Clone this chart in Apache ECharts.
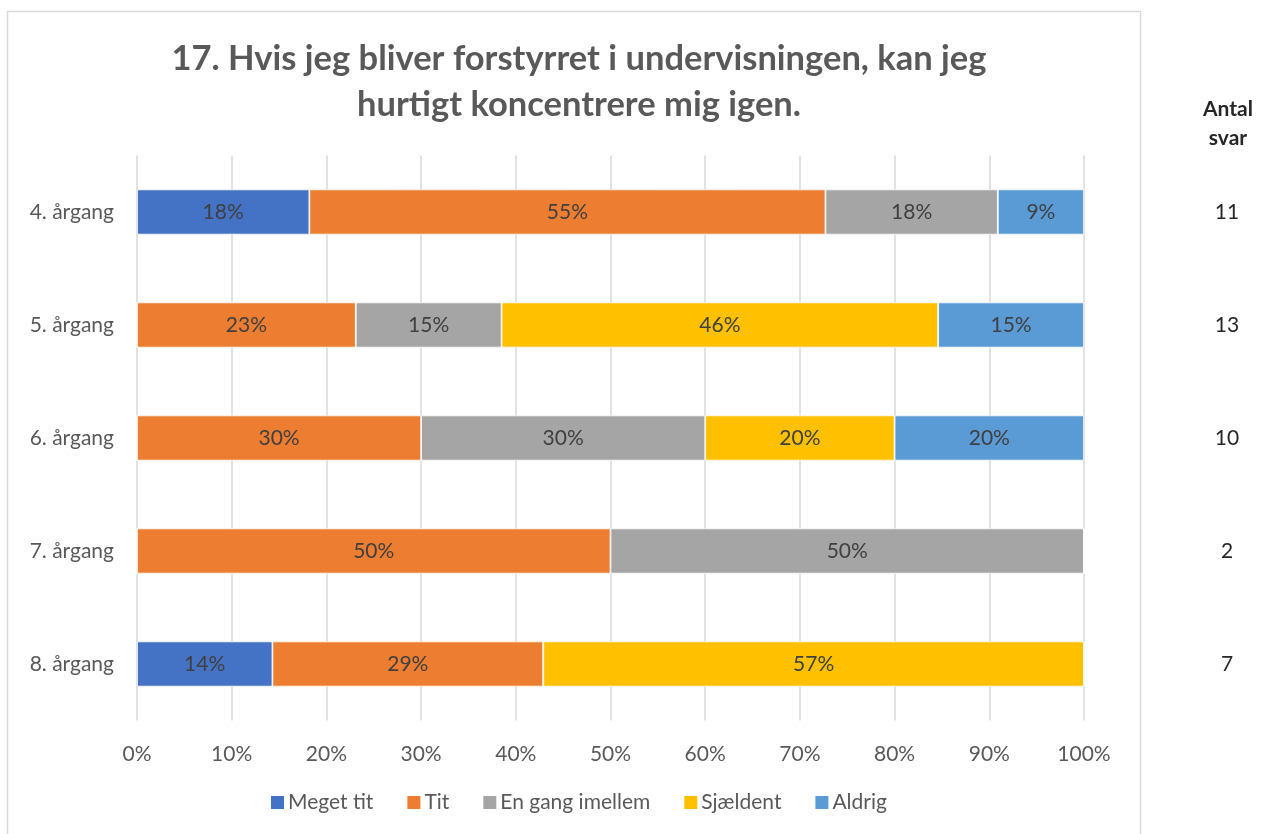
<!DOCTYPE html>
<html>
<head>
<meta charset="utf-8">
<script src="https://cdn.jsdelivr.net/npm/echarts@6/dist/echarts.min.js"></script>
<style>
  html, body { margin: 0; padding: 0; background: #fff; }
  #chart { width: 1262px; height: 834px; }
</style>
</head>
<body>
<div id="chart"></div>
<script>
// Survey question 17, answer shares per year group (percent of respondents)
const categories = ['4. årgang', '5. årgang', '6. årgang', '7. årgang', '8. årgang'];
const answerCounts = ['11', '13', '10', '2', '7'];
const seriesNames = ['Meget tit', 'Tit', 'En gang imellem', 'Sjældent', 'Aldrig'];
const megetTit     = [18.2, 0,    0,  0,  14.3];
const tit          = [54.5, 23.1, 30, 50, 28.6];
const enGangImellem= [18.2, 15.4, 30, 50, 0];
const sjaeldent    = [0,    46.1, 20, 0,  57.1];
const aldrig       = [9.1,  15.4, 20, 0,  0];
const xTicks = [0, 10, 20, 30, 40, 50, 60, 70, 80, 90, 100];

const colors = ['#4472C4', '#ED7D31', '#A5A5A5', '#FFC000', '#5B9BD5'];
const FONT = 'Lato, "Open Sans", sans-serif';
const LABEL_SIZE = 21;

const seriesData = [megetTit, tit, enGangImellem, sjaeldent, aldrig];

const chart = echarts.init(document.getElementById('chart'), null, { renderer: 'canvas' });

chart.setOption({
  animation: false,
  textStyle: { fontFamily: FONT },
  color: colors,
  title: {
    text: '17. Hvis jeg bliver forstyrret i undervisningen, kan jeg\nhurtigt koncentrere mig igen.',
    left: 574,
    top: 31,
    textAlign: 'center',
    textStyle: { fontFamily: FONT, fontSize: 34.5, fontWeight: 'bold', color: '#595959', lineHeight: 46 }
  },
  legend: {
    data: seriesNames,
    bottom: 16,
    left: 264,
    itemWidth: 15,
    itemHeight: 15,
    itemGap: 32,
    icon: 'rect',
    textStyle: { fontFamily: FONT, fontSize: LABEL_SIZE, color: '#595959', padding: [0, 0, 0, -2] }
  },
  grid: { left: 137, right: 178, top: 155.5, bottom: 113.5, containLabel: false },
  xAxis: {
    type: 'value',
    min: 0,
    max: 100,
    interval: 10,
    axisLine: { show: false },
    axisTick: { show: false },
    axisLabel: {
      fontFamily: FONT, fontSize: LABEL_SIZE, color: '#595959', margin: 23,
      formatter: v => xTicks.includes(v) ? v + '%' : ''
    },
    splitLine: { show: true, lineStyle: { color: '#d9d9d9', width: 1.5 } }
  },
  yAxis: [
    {
      type: 'category',
      data: categories,
      inverse: true,
      axisLine: { show: false },
      axisTick: { show: false },
      axisLabel: { fontFamily: FONT, fontSize: LABEL_SIZE, color: '#595959', margin: 23 },
      splitLine: { show: false }
    },
    {
      type: 'category',
      data: answerCounts,
      inverse: true,
      position: 'right',
      axisLine: { show: false },
      axisTick: { show: false },
      axisLabel: { fontFamily: FONT, fontSize: LABEL_SIZE, color: '#262626', margin: 143, align: 'center' },
      splitLine: { show: false }
    }
  ],
  graphic: [
    {
      type: 'rect',
      shape: { x: 7.5, y: 11.5, width: 1133, height: 840 },
      style: { fill: 'none', stroke: '#d9d9d9', lineWidth: 1.5 },
      silent: true
    },
    {
      type: 'text',
      x: 1228,
      y: 95,
      style: {
        text: 'Antal\nsvar',
        align: 'center',
        font: 'bold 21px ' + FONT,
        fill: '#262626',
        lineHeight: 29
      },
      silent: true
    }
  ],
  series: seriesNames.map((name, i) => ({
    name,
    type: 'bar',
    stack: 'total',
    barWidth: '40%',
    data: seriesData[i],
    itemStyle: { color: colors[i], borderColor: '#ffffff', borderWidth: 0.8 },
    label: {
      show: true,
      position: 'inside',
      fontFamily: FONT,
      fontSize: LABEL_SIZE,
      color: '#404040',
      formatter: p => p.value > 0 ? Math.round(p.value) + '%' : ''
    }
  }))
});
</script>
</body>
</html>
